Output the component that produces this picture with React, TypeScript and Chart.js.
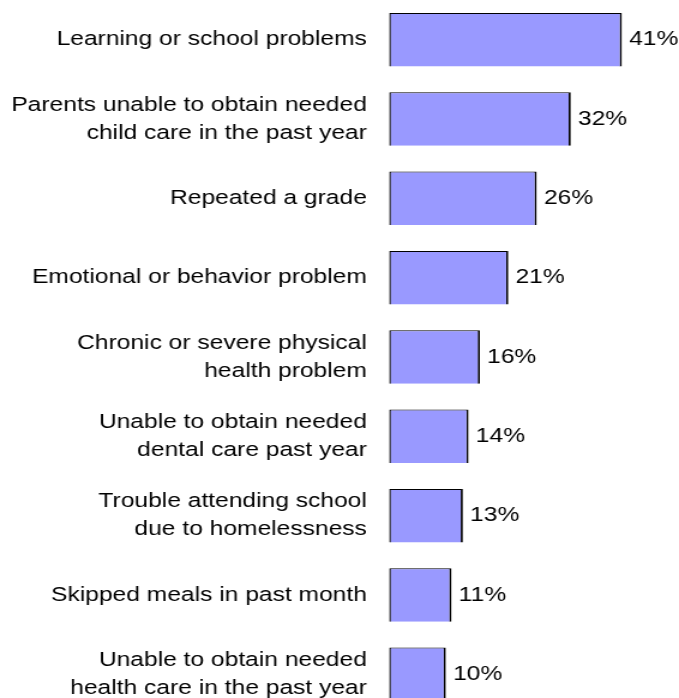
import React, { useEffect, useRef } from "react";
import { Chart, registerables } from "chart.js";

Chart.register(...registerables);

const categories: string[][] = [
  ["Learning or school problems"],
  ["Parents unable to obtain needed", "child care in the past year"],
  ["Repeated a grade"],
  ["Emotional or behavior problem"],
  ["Chronic or severe physical", "health problem"],
  ["Unable to obtain needed", "dental care past year"],
  ["Trouble attending school", "due to homelessness"],
  ["Skipped meals in past month"],
  ["Unable to obtain needed", "health care in the past year"],
];
const values: number[] = [41, 32, 26, 21, 16, 14, 13, 11, 10];
const axisMax = 50;

const FONT = '"Liberation Sans", Arial, sans-serif';
const FONT_SIZE = 20.5;
const CANVAS_W = 566;
const CANVAS_H = 714;

const valueLabels = {
  id: "valueLabels",
  afterDatasetsDraw(chart: any) {
    const ctx = chart.ctx;
    const meta = chart.getDatasetMeta(0);
    ctx.save();
    ctx.font = `${FONT_SIZE}px ${FONT}`;
    ctx.fillStyle = "#000000";
    ctx.textAlign = "left";
    ctx.textBaseline = "middle";
    meta.data.forEach((el: any, i: number) => {
      ctx.fillText(`${values[i]}%`, el.x + 6, el.y);
    });
    ctx.restore();
  },
};

export default function App() {
  const ref = useRef<HTMLCanvasElement>(null);
  useEffect(() => {
    if (!ref.current) return;
    const chart = new Chart(ref.current, {
      type: "bar",
      data: {
        labels: categories,
        datasets: [
          {
            data: values,
            backgroundColor: "#9999FF",
            borderColor: "#000000",
            borderWidth: { top: 1, left: 1.5, right: 1.8, bottom: 0 } as any,
            borderSkipped: false,
            barPercentage: 0.674,
            categoryPercentage: 1,
          },
        ],
      },
      options: {
        indexAxis: "y",
        responsive: false,
        animation: false,
        devicePixelRatio: 1,
        layout: { padding: { left: 0, right: 5, top: 0, bottom: 0 } },
        plugins: {
          legend: { display: false },
          tooltip: { enabled: false },
          title: { display: false },
        },
        scales: {
          x: { display: false, min: 0, max: axisMax },
          y: {
            grid: { display: false, drawTicks: false },
            border: { display: false },
            ticks: {
              color: "#000000",
              padding: 18.5,
              font: { family: FONT, size: FONT_SIZE, lineHeight: 28 / FONT_SIZE },
            },
            afterFit: (scale: any) => {
              scale.width = 324.3;
              scale.paddingTop = 0;
              scale.paddingBottom = 0;
            },
          },
        },
      },
      plugins: [valueLabels],
    });
    return () => chart.destroy();
  }, []);
  return (
    <div
      style={{
        position: "absolute",
        left: 0,
        top: 0,
        width: 679,
        height: 698,
        overflow: "hidden",
        background: "#ffffff",
      }}
    >
      <canvas
        ref={ref}
        width={CANVAS_W}
        height={CANVAS_H}
        style={{ width: "679px", height: `${CANVAS_H}px`, display: "block" }}
      />
    </div>
  );
}
